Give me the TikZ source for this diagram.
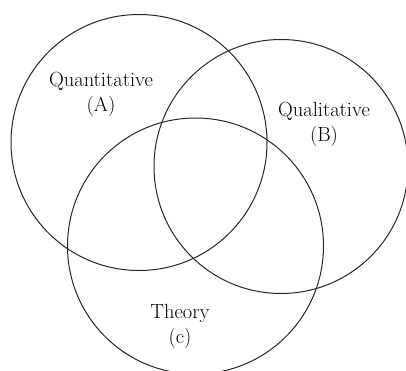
\documentclass[tikz,border=0pt]{standalone}
\begin{document}
\begin{tikzpicture}[x=1pt,y=1pt,
  venn/.style={draw=black!85,line width=1pt},
  lbl/.style={align=center,font=\rmfamily\fontsize{20.5}{25}\selectfont,inner sep=0pt}]
\useasboundingbox (0,0) rectangle (406,370);
\begin{scope}
\clip (0,0) rectangle (406,370);
\node[venn,circle,minimum size=256pt,inner sep=0pt] (A) at (139,227.5) {};
\node[venn,circle,minimum size=254pt,inner sep=0pt] (B) at (281,203.5) {};
\node[venn,circle,minimum size=256pt,inner sep=0pt] (C) at (195.5,124) {};
\end{scope}
\node[lbl] (la) at (101,276) {Quantitative\\(A)};
\node[lbl] (lb) at (324,246) {Qualitative\\(B)};
\node[lbl] (lc) at (180,44) {Theory\\(c)};
\end{tikzpicture}
\end{document}
